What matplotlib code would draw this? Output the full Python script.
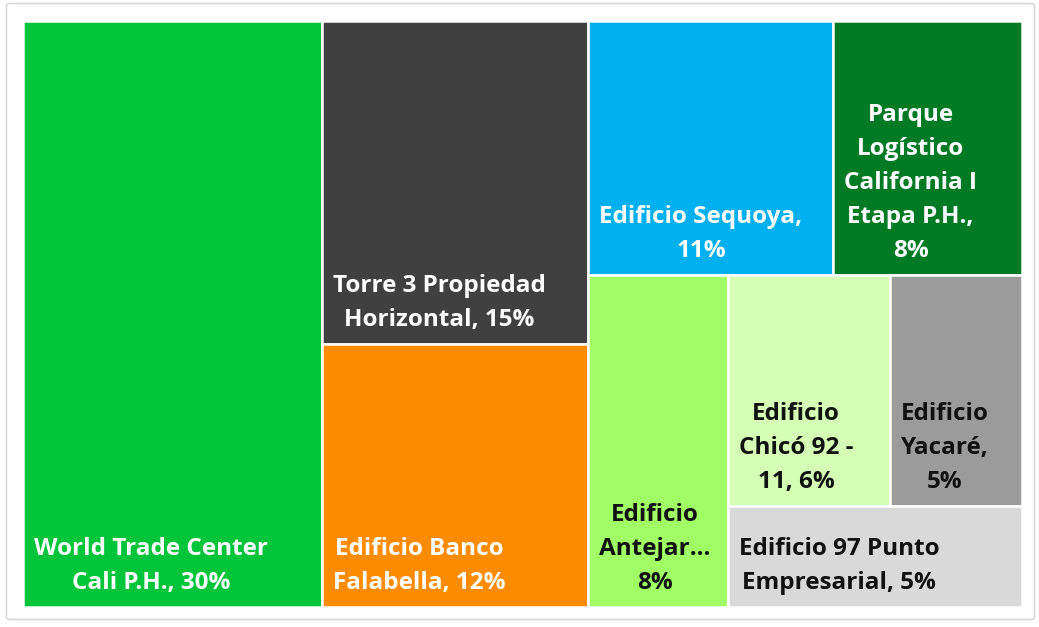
import matplotlib
matplotlib.use("Agg")
import matplotlib.pyplot as plt
from matplotlib.patches import Rectangle, FancyBboxPatch

# tile data, biggest first (shares)
labels = [
    "World Trade Center\nCali P.H., 30%",
    "Torre 3 Propiedad\nHorizontal, 15%",
    "Edificio Banco\nFalabella, 12%",
    "Edificio Sequoya,\n11%",
    "Parque\nLogístico\nCalifornia I\nEtapa P.H.,\n8%",
    "Edificio\nAntejar...\n8%",
    "Edificio\nChicó 92 -\n11, 6%",
    "Edificio\nYacaré,\n5%",
    "Edificio 97 Punto\nEmpresarial, 5%",
]
values = [29.9, 14.7, 12.0, 10.6, 8.2, 7.9, 6.4, 5.2, 5.1]
colors = ["#00C53A", "#404040", "#FF8C00", "#00B0F0", "#007A25",
          "#A0FF64", "#D4FFB4", "#9B9B9B", "#D9D9D9"]
text_colors = ["white"] * 5 + ["#111111"] * 4
# groups of tiles that share one strip, in the order they are laid out
strips = [[0], [1, 2], [3, 4], [5], [6, 7], [8]]


def layout(vals, groups, x, y, w, h):
    """Strip layout: each strip goes along the shorter side of what is left."""
    rects = [None] * len(vals)
    total = float(sum(vals))
    for grp in groups:
        s = sum(vals[i] for i in grp)
        frac = s / total
        if w >= h:
            cw = w * frac
            yy = y
            for i in grp:
                ch = h * vals[i] / s
                rects[i] = (x, yy, cw, ch)
                yy += ch
            x += cw
            w -= cw
        else:
            rh = h * frac
            xx = x
            for i in grp:
                rw = w * vals[i] / s
                rects[i] = (xx, y, rw, rh)
                xx += rw
            y += rh
            h -= rh
        total -= s
    return rects


W, H = 1039, 627
fig = plt.figure(figsize=(W / 100.0, H / 100.0), dpi=100)
fig.patch.set_facecolor("white")

# outer chart frame
frame = FancyBboxPatch((6.5 / W, 1 - 619.5 / H), 1028.0 / W, 616.0 / H,
                       boxstyle="round,pad=0,rounding_size=0.004",
                       transform=fig.transFigure, facecolor="none",
                       edgecolor="#D9D9D9", linewidth=1.2)
fig.patches.append(frame)

x0, x1, y0, y1 = 22.8, 1022.2, 20.8, 607.2
pw, ph = x1 - x0, y1 - y0
ax = fig.add_axes([x0 / W, 1 - y1 / H, pw / W, ph / H])
ax.set_xlim(0, pw)
ax.set_ylim(ph, 0)
ax.set_axis_off()

rects = layout(values, strips, 0.0, 0.0, pw, ph)
for i, (rx, ry, rw, rh) in enumerate(rects):
    ax.add_patch(Rectangle((rx, ry), rw, rh, facecolor=colors[i],
                           edgecolor="white", linewidth=1.8))
    ax.annotate(labels[i], xy=(rx, ry + rh), xytext=(11, 12),
                textcoords="offset pixels", ha="left", va="bottom",
                multialignment="center", color=text_colors[i],
                fontsize=17.5, fontweight="bold", family="Open Sans",
                linespacing=1.55)

fig.savefig("out.png", dpi=100, facecolor="white")
